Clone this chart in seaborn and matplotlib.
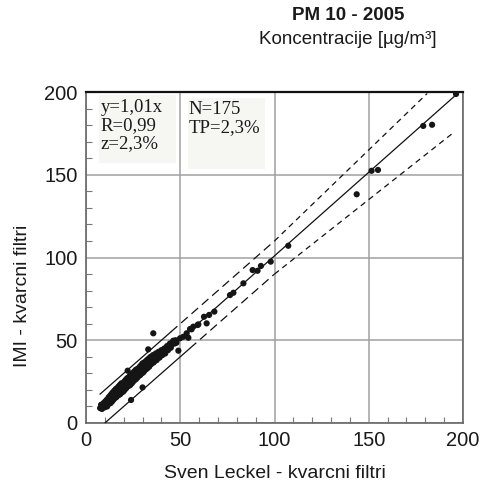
import matplotlib
matplotlib.use("Agg")
import matplotlib.pyplot as plt
from matplotlib.patches import Rectangle
from matplotlib.ticker import MultipleLocator
import numpy as np
import pandas as pd
import seaborn as sns

# Paired daily PM10 concentrations (µg/m³): Sven Leckel sampler vs IMI, quartz filters
sven_leckel = [
    7.5, 8.0, 8.5, 9.0, 9.3, 10.0, 10.2, 10.5, 11.0, 11.2, 11.5, 12.0, 12.0, 12.4, 12.8,
    13.0, 13.2, 13.5, 13.8, 14.0, 14.2, 14.5, 14.8, 15.0, 15.2, 15.5, 15.8, 16.0, 16.2,
    16.5, 16.8, 17.0, 17.2, 17.5, 17.8, 18.0, 18.2, 18.5, 18.8, 19.0, 19.2, 19.5, 19.8,
    20.0, 20.3, 20.5, 20.8, 21.0, 21.3, 21.5, 21.8, 22.0, 22.3, 22.5, 22.8, 23.0, 23.3,
    23.5, 23.8, 24.0, 24.3, 24.5, 24.8, 25.0, 25.3, 25.5, 25.8, 26.0, 26.3, 26.5, 26.8,
    27.0, 27.3, 27.5, 27.8, 28.0, 28.3, 28.5, 28.8, 29.0, 29.3, 29.5, 29.8, 30.0, 30.3,
    30.5, 30.8, 31.0, 31.3, 31.5, 31.8, 32.0, 32.3, 32.5, 33.0, 33.3, 33.5, 34.0, 34.3,
    34.5, 35.0, 35.5, 36.0, 36.5, 37.0, 37.5, 38.0, 38.5, 39.0, 39.5, 40.0, 40.5, 41.0,
    41.5, 42.0, 42.5, 43.0, 43.5, 44.0, 44.5, 45.0, 45.5, 46.0, 47.0, 47.5, 48.0,
    15.6, 17.4, 19.6, 21.2, 22.6, 24.6, 26.2, 27.6, 29.6, 31.6, 33.8, 35.8, 37.8,
    16.4, 18.6, 20.6, 23.6, 25.6, 28.6, 30.6,
    35.7, 33.0, 22.1, 23.9, 49.0, 30.0, 46.3, 49.9, 51.6, 53.4, 54.3, 55.2, 56.0,
    56.9, 59.2, 59.6, 62.6, 64.0, 65.3, 68.1, 76.4, 78.2, 83.5, 88.4, 91.0, 92.8,
    98.0, 107.3, 143.6, 151.5, 154.9, 178.9, 183.6, 196.3,
]
imi = [
    9.0, 11.0, 8.5, 10.5, 12.0, 9.5, 13.0, 11.0, 14.0, 10.0, 12.5, 15.5, 11.5, 13.8, 16.5,
    12.0, 14.5, 17.5, 13.0, 16.0, 18.5, 14.0, 16.8, 19.5, 15.0, 17.5, 20.5, 15.5, 18.5,
    21.0, 16.5, 19.5, 22.0, 17.0, 20.0, 23.0, 17.5, 21.0, 24.0, 18.5, 21.5, 23.5, 19.0,
    22.0, 25.0, 20.0, 23.0, 26.0, 21.0, 24.0, 27.0, 22.0, 25.0, 27.5, 22.5, 26.0, 28.5,
    23.0, 26.5, 29.5, 24.0, 27.0, 30.0, 25.0, 28.0, 31.0, 26.0, 29.0, 32.0, 26.5, 29.5,
    32.5, 27.5, 30.5, 33.0, 28.5, 31.0, 34.0, 29.0, 32.0, 35.0, 30.0, 33.0, 36.0, 30.5,
    34.0, 36.5, 31.5, 34.5, 37.0, 32.5, 35.5, 38.0, 33.0, 36.0, 39.0, 34.0, 37.5, 40.0,
    35.5, 38.5, 41.0, 37.0, 40.0, 42.0, 38.0, 41.0, 43.0, 39.5, 42.5, 44.0, 41.0, 43.5,
    45.0, 42.0, 45.0, 46.5, 44.0, 46.0, 48.0, 45.5, 47.5, 49.0, 48.0, 50.0, 48.5,
    17.0, 18.0, 21.5, 22.0, 24.5, 25.5, 28.0, 28.5, 31.5, 32.5, 35.5, 36.5, 40.0,
    18.2, 19.0, 22.8, 24.8, 27.8, 29.6, 33.2,
    54.2, 44.5, 31.6, 13.9, 43.7, 21.5, 49.7, 51.2, 52.1, 54.2, 51.5, 56.8, 56.6,
    58.2, 59.2, 59.6, 64.2, 60.2, 65.3, 67.3, 77.3, 78.7, 84.4, 92.4, 92.0, 94.9,
    97.5, 107.1, 138.2, 152.4, 152.9, 179.5, 180.2, 198.8,
]

# Regression line y = 1.01x and the tolerance band (±10 µg/m³ below 100, ±10 % above)
fit_x = [8.0, 197.0]
fit_slope = 1.01
band_upper_solid_x = [7.4, 45.0]
band_lower_solid_x = [10.0, 55.0]
band_upper_long_x = [45.0, 100.0]
band_lower_long_x = [55.0, 100.0]
band_upper_short_x = [100.0, 181.0]
band_lower_short_x = [100.0, 195.0]

df = pd.DataFrame({"sven": sven_leckel, "imi": imi})

sns.set_theme(style="white")
plt.rcParams["font.family"] = ["Liberation Sans", "DejaVu Sans"]

fig = plt.figure(figsize=(4.82, 4.88), dpi=100)
ax = fig.add_axes([86 / 482, 1 - 423 / 488, (463 - 86) / 482, (423 - 92) / 488])


def upper(x):
    x = np.asarray(x)
    return np.maximum(x + 10, 1.1 * x)


def lower(x):
    x = np.asarray(x)
    return np.minimum(x - 10, 0.9 * x)


ax.set_xlim(0, 200)
ax.set_ylim(0, 200)
ax.grid(True, color="#a0a0a0", lw=1.1)
ax.xaxis.set_major_locator(MultipleLocator(50))
ax.yaxis.set_major_locator(MultipleLocator(50))
ax.xaxis.set_minor_locator(MultipleLocator(10))
ax.yaxis.set_minor_locator(MultipleLocator(10))
ax.tick_params(which="major", length=0, labelsize=14.5, colors="#1a1a1a", pad=6)
ax.tick_params(which="minor", direction="in", length=4, width=0.8, color="#777777",
               bottom=True, left=True)

for name, sp in ax.spines.items():
    sp.set_visible(True)
    sp.set_color("#666666")
    sp.set_linewidth(1.2)
ax.spines["top"].set_color("#111111")
ax.spines["top"].set_linewidth(1.6)

line_kw = dict(color="#111111", lw=0.9, zorder=3)
ax.plot(fit_x, fit_slope * np.asarray(fit_x), **line_kw)
ax.plot(band_upper_solid_x, upper(band_upper_solid_x), **line_kw)
ax.plot(band_lower_solid_x, lower(band_lower_solid_x), **line_kw)
ax.plot(band_upper_long_x, upper(band_upper_long_x), dashes=(7, 4), **line_kw)
ax.plot(band_lower_long_x, lower(band_lower_long_x), dashes=(7, 4), **line_kw)
ax.plot(band_upper_short_x, upper(band_upper_short_x), dashes=(4.5, 3.5), **line_kw)
ax.plot(band_lower_short_x, lower(band_lower_short_x), dashes=(4.5, 3.5), **line_kw)

sns.scatterplot(data=df, x="sven", y="imi", ax=ax, color="#151515", s=20,
                edgecolor="none", zorder=4, legend=False)

# Statistics boxes
ax.add_patch(Rectangle((6.9, 157.1), 40.8, 41.1, facecolor="#f6f6f3", edgecolor="none", zorder=2))
ax.add_patch(Rectangle((54.1, 153.5), 40.8, 42.9, facecolor="#f6f6f3", edgecolor="none", zorder=2))
ax.text(7.6, 196.0, "y=1,01x\nR=0,99\nz=2,3%", family=["Liberation Serif", "DejaVu Serif"],
        fontsize=13.5, va="top", ha="left", linespacing=1.08, color="#1a1a1a", zorder=5)
ax.text(54.6, 194.5, "N=175\nTP=2,3%", family=["Liberation Serif", "DejaVu Serif"],
        fontsize=13.5, va="top", ha="left", linespacing=1.08, color="#1a1a1a", zorder=5)

ax.set_xlabel("Sven Leckel - kvarcni filtri", fontsize=14, color="#1a1a1a")
ax.set_ylabel("IMI - kvarcni filtri", fontsize=14, color="#1a1a1a")
ax.xaxis.set_label_coords(0.5, -0.128)
ax.yaxis.set_label_coords(-0.146, 0.385)

fig.text(348 / 482, 1 - 15 / 488, "PM 10 - 2005", fontsize=13.5, fontweight="bold",
         ha="center", va="center", color="#1a1a1a")
fig.text(348 / 482, 1 - 39 / 488, "Koncentracije [µg/m³]", fontsize=13.5,
         ha="center", va="center", color="#1a1a1a")

fig.savefig("out.png", dpi=100)
